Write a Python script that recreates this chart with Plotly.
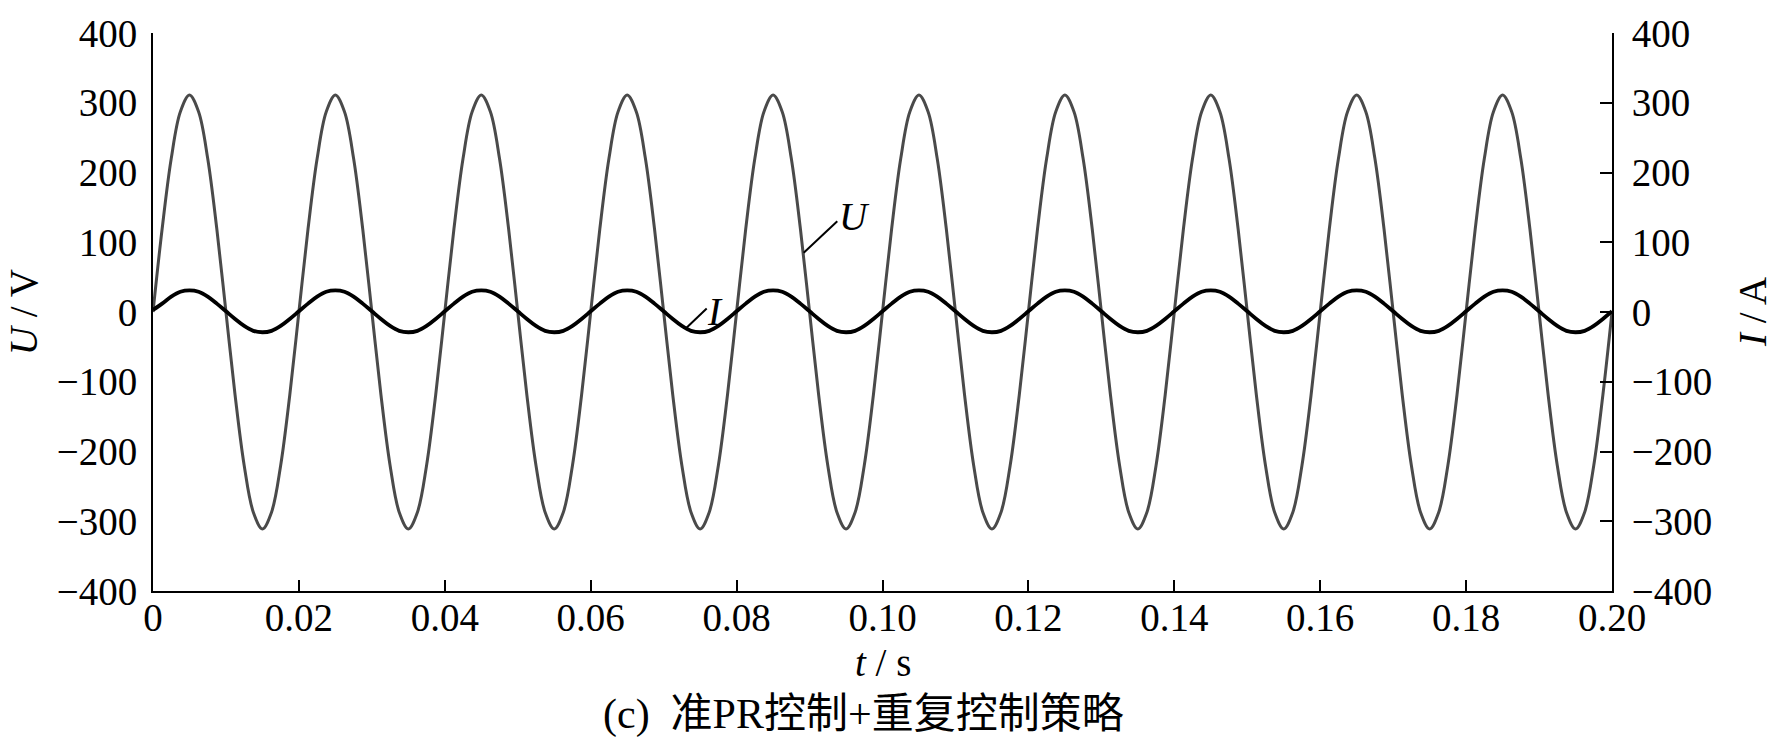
import plotly.graph_objects as go

# sample times (s), 16 samples per 20 ms cycle
t_s = [0.0, 0.00125, 0.0025, 0.00375, 0.005, 0.00625, 0.0075, 0.00875, 0.01, 0.01125, 0.0125, 0.01375, 0.015, 0.01625, 0.0175, 0.01875,
       0.02, 0.02125, 0.0225, 0.02375, 0.025, 0.02625, 0.0275, 0.02875, 0.03, 0.03125, 0.0325, 0.03375, 0.035, 0.03625, 0.0375, 0.03875,
       0.04, 0.04125, 0.0425, 0.04375, 0.045, 0.04625, 0.0475, 0.04875, 0.05, 0.05125, 0.0525, 0.05375, 0.055, 0.05625, 0.0575, 0.05875,
       0.06, 0.06125, 0.0625, 0.06375, 0.065, 0.06625, 0.0675, 0.06875, 0.07, 0.07125, 0.0725, 0.07375, 0.075, 0.07625, 0.0775, 0.07875,
       0.08, 0.08125, 0.0825, 0.08375, 0.085, 0.08625, 0.0875, 0.08875, 0.09, 0.09125, 0.0925, 0.09375, 0.095, 0.09625, 0.0975, 0.09875,
       0.1, 0.10125, 0.1025, 0.10375, 0.105, 0.10625, 0.1075, 0.10875, 0.11, 0.11125, 0.1125, 0.11375, 0.115, 0.11625, 0.1175, 0.11875,
       0.12, 0.12125, 0.1225, 0.12375, 0.125, 0.12625, 0.1275, 0.12875, 0.13, 0.13125, 0.1325, 0.13375, 0.135, 0.13625, 0.1375, 0.13875,
       0.14, 0.14125, 0.1425, 0.14375, 0.145, 0.14625, 0.1475, 0.14875, 0.15, 0.15125, 0.1525, 0.15375, 0.155, 0.15625, 0.1575, 0.15875,
       0.16, 0.16125, 0.1625, 0.16375, 0.165, 0.16625, 0.1675, 0.16875, 0.17, 0.17125, 0.1725, 0.17375, 0.175, 0.17625, 0.1775, 0.17875,
       0.18, 0.18125, 0.1825, 0.18375, 0.185, 0.18625, 0.1875, 0.18875, 0.19, 0.19125, 0.1925, 0.19375, 0.195, 0.19625, 0.1975, 0.19875,
       0.2]

# grid voltage U (V)
u_volts = [0, 119, 220, 287, 311, 287, 220, 119, 0, -119, -220, -287, -311, -287, -220, -119,
           0, 119, 220, 287, 311, 287, 220, 119, 0, -119, -220, -287, -311, -287, -220, -119,
           0, 119, 220, 287, 311, 287, 220, 119, 0, -119, -220, -287, -311, -287, -220, -119,
           0, 119, 220, 287, 311, 287, 220, 119, 0, -119, -220, -287, -311, -287, -220, -119,
           0, 119, 220, 287, 311, 287, 220, 119, 0, -119, -220, -287, -311, -287, -220, -119,
           0, 119, 220, 287, 311, 287, 220, 119, 0, -119, -220, -287, -311, -287, -220, -119,
           0, 119, 220, 287, 311, 287, 220, 119, 0, -119, -220, -287, -311, -287, -220, -119,
           0, 119, 220, 287, 311, 287, 220, 119, 0, -119, -220, -287, -311, -287, -220, -119,
           0, 119, 220, 287, 311, 287, 220, 119, 0, -119, -220, -287, -311, -287, -220, -119,
           0, 119, 220, 287, 311, 287, 220, 119, 0, -119, -220, -287, -311, -287, -220, -119,
           0]

# grid current I (A)
i_amps = [3, 12, 22, 29, 31, 29, 22, 12, 1, -10, -20, -27, -29, -27, -20, -10,
          1, 12, 22, 29, 31, 29, 22, 12, 1, -10, -20, -27, -29, -27, -20, -10,
          1, 12, 22, 29, 31, 29, 22, 12, 1, -10, -20, -27, -29, -27, -20, -10,
          1, 12, 22, 29, 31, 29, 22, 12, 1, -10, -20, -27, -29, -27, -20, -10,
          1, 12, 22, 29, 31, 29, 22, 12, 1, -10, -20, -27, -29, -27, -20, -10,
          1, 12, 22, 29, 31, 29, 22, 12, 1, -10, -20, -27, -29, -27, -20, -10,
          1, 12, 22, 29, 31, 29, 22, 12, 1, -10, -20, -27, -29, -27, -20, -10,
          1, 12, 22, 29, 31, 29, 22, 12, 1, -10, -20, -27, -29, -27, -20, -10,
          1, 12, 22, 29, 31, 29, 22, 12, 1, -10, -20, -27, -29, -27, -20, -10,
          1, 12, 22, 29, 31, 29, 22, 12, 1, -10, -20, -27, -29, -27, -20, -10,
          1]

x_ticks = [0, 0.02, 0.04, 0.06, 0.08, 0.10, 0.12, 0.14, 0.16, 0.18, 0.20]
x_tick_text = ["0", "0.02", "0.04", "0.06", "0.08", "0.10", "0.12", "0.14", "0.16", "0.18", "0.20"]
y_ticks = [-400, -300, -200, -100, 0, 100, 200, 300, 400]
y_tick_text = ["\u2212400", "\u2212300", "\u2212200", "\u2212100", "0", "100", "200", "300", "400"]

FONT = "Liberation Serif, Times New Roman, serif"
CJK = "Liberation Serif, Noto Sans CJK SC, serif"
FS = 39

fig = go.Figure()
fig.add_trace(go.Scatter(x=t_s, y=u_volts, mode="lines", name="U",
                         line=dict(color="#4a4a4a", width=3, shape="spline"),
                         yaxis="y", showlegend=False))
fig.add_trace(go.Scatter(x=t_s, y=i_amps, mode="lines", name="I",
                         line=dict(color="#000000", width=3.8, shape="spline"),
                         yaxis="y2", showlegend=False))

fig.update_layout(
    width=1780, height=746,
    margin=dict(l=153, r=168, t=24, b=155),
    paper_bgcolor="white", plot_bgcolor="white",
    font=dict(family=FONT, size=FS, color="black"),
    xaxis=dict(range=[0, 0.2], tickvals=x_ticks, ticktext=x_tick_text,
               showline=True, linecolor="black", linewidth=2, mirror=False,
               ticks="inside", ticklen=11, tickwidth=2, tickcolor="black",
               showgrid=False, zeroline=False, ticklabelstandoff=-9),
    yaxis=dict(range=[-400, 400], tickvals=y_ticks, ticktext=y_tick_text,
               showline=True, linecolor="black", linewidth=2,
               ticks="", showgrid=False, zeroline=False, ticklabelstandoff=6),
    yaxis2=dict(range=[-400, 400], tickvals=y_ticks, ticktext=y_tick_text,
                overlaying="y", side="right", anchor="x",
                showline=True, linecolor="black", linewidth=2,
                ticks="inside", ticklen=12, tickwidth=2, tickcolor="black",
                showgrid=False, zeroline=False, ticklabelstandoff=10),
)

annotations = [
    dict(text="<i>t</i> / s", xref="paper", yref="paper", x=0.5, y=-0.128,
         xanchor="center", yanchor="middle", showarrow=False, font=dict(size=FS)),
    dict(text="(c)  准PR控制+重复控制策略", xref="paper", yref="paper", x=0.487, y=-0.222,
         xanchor="center", yanchor="middle", showarrow=False,
         font=dict(size=42, family=CJK)),
    dict(text="<i>U</i> / V", xref="paper", yref="paper", x=-0.089, y=0.5,
         xanchor="center", yanchor="middle", textangle=-90, showarrow=False,
         font=dict(size=FS)),
    dict(text="<i>I</i> / A", xref="paper", yref="paper", x=1.096, y=0.5,
         xanchor="center", yanchor="middle", textangle=-90, showarrow=False,
         font=dict(size=FS)),
    dict(text="<i>U</i>", xref="x", yref="y", x=0.0962, y=137,
         xanchor="center", yanchor="middle", showarrow=False, font=dict(size=FS)),
    dict(text="<i>I</i>", xref="x", yref="y", x=0.0770, y=1,
         xanchor="center", yanchor="middle", showarrow=False, font=dict(size=FS)),
]
fig.update_layout(annotations=annotations)

fig.add_shape(type="line", xref="x", yref="y", x0=0.0938, y0=130, x1=0.0892, y1=85,
              line=dict(color="black", width=2))
fig.add_shape(type="line", xref="x", yref="y", x0=0.0759, y0=5, x1=0.0731, y1=-23,
              line=dict(color="black", width=2))

fig.write_html("out.html", config={"displayModeBar": False},
               post_script="document.body.style.margin='0px';")
